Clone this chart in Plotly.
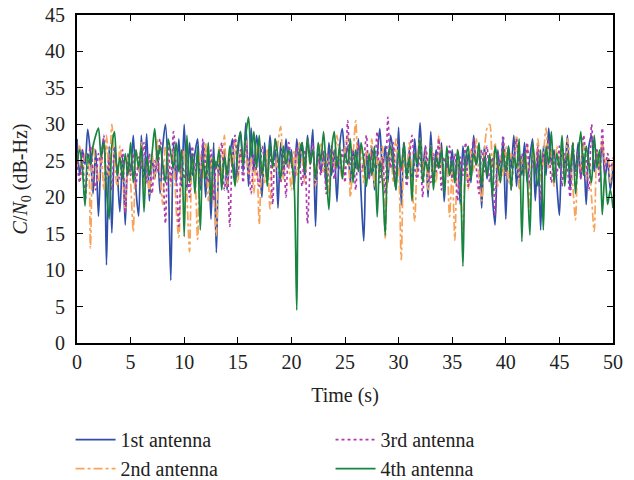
import plotly.graph_objects as go

# time axis: 0 to 50 s, step 0.25 s
time_s = [i * 0.25 for i in range(201)]

ant1 = [
    28.0, 23.0, 26.5, 24.5, 29.3, 26.0, 20.5, 26.5, 17.4, 25.5, 28.0, 10.7, 27.0, 15.1, 26.5, 23.5, 18.0, 25.5, 16.2, 26.0,
    23.5, 28.5, 21.0, 17.4, 28.5, 22.0, 28.7, 19.5, 25.5, 22.5, 26.5, 20.5, 27.0, 30.0, 23.5, 8.6, 27.5, 22.0, 28.0, 21.5,
    30.0, 21.0, 27.5, 23.0, 26.0, 28.0, 21.0, 27.5, 20.0, 26.0, 17.0, 27.5, 12.4, 25.0, 22.5, 26.5, 21.0, 25.5, 28.0, 22.0,
    26.0, 29.0, 23.5, 30.2, 21.5, 29.5, 23.5, 28.5, 25.0, 20.0, 27.5, 22.0, 28.5, 24.5, 26.5, 18.5, 27.5, 23.0, 28.0, 24.0,
    26.5, 21.0, 28.0, 24.0, 27.5, 22.5, 28.5, 25.0, 29.3, 16.0, 27.0, 23.5, 26.0, 21.5, 27.5, 23.0, 26.5, 19.4, 27.0, 29.4,
    25.5, 27.0, 22.0, 26.5, 24.0, 28.0, 20.5, 14.0, 26.0, 22.5, 27.0, 21.0, 25.5, 29.4, 23.5, 27.0, 22.0, 28.5, 26.0, 21.0,
    29.6, 18.9, 27.5, 23.0, 26.5, 21.5, 28.0, 23.5, 30.2, 24.0, 27.0, 20.0, 29.0, 22.5, 26.5, 24.0, 27.5, 19.4, 25.0, 23.0,
    26.5, 22.0, 25.5, 19.0, 27.0, 23.5, 26.0, 22.0, 28.5, 24.5, 26.0, 18.5, 27.0, 22.5, 25.5, 20.0, 16.2, 26.5, 23.0, 28.0,
    17.0, 27.0, 24.0, 28.5, 21.5, 26.0, 23.0, 27.5, 22.0, 25.5, 28.0, 19.5, 26.5, 15.5, 27.0, 23.0, 29.5, 24.5, 26.5, 22.0,
    17.5, 27.0, 24.0, 28.5, 21.0, 26.5, 23.5, 27.5, 22.5, 26.0, 19.0, 27.0, 28.5, 23.5, 26.5, 24.0, 27.5, 22.5, 25.0, 21.0,
    24.0,
]

ant2 = [
    24.0, 27.0, 22.5, 26.0, 25.5, 13.0, 27.5, 24.0, 22.0, 26.5, 21.0, 28.5, 23.0, 30.0, 24.5, 21.5, 27.0, 23.0, 18.0, 25.5,
    22.0, 15.3, 26.5, 23.5, 27.5, 21.0, 24.5, 20.5, 26.0, 22.5, 28.0, 23.0, 19.0, 27.0, 25.0, 21.5, 26.5, 18.5, 14.5, 24.0,
    26.5, 20.5, 12.5, 25.0, 23.0, 14.2, 26.0, 22.5, 27.5, 19.5, 25.5, 21.0, 14.7, 27.0, 22.5, 28.5, 21.5, 26.0, 24.0, 28.0,
    22.0, 26.5, 24.5, 28.0, 23.0, 25.5, 20.5, 27.0, 16.3, 24.5, 22.0, 26.5, 18.4, 25.0, 23.5, 27.5, 29.7, 22.5, 26.0, 24.5,
    21.0, 26.5, 23.0, 27.5, 25.0, 22.0, 28.0, 24.5, 26.5, 21.5, 25.0, 27.5, 23.5, 26.0, 20.5, 27.0, 24.0, 28.5, 25.0, 22.5,
    26.5, 28.5, 20.0, 25.5, 30.5, 23.5, 27.0, 22.0, 26.5, 24.5, 28.0, 21.5, 25.5, 23.0, 27.0, 14.4, 24.0, 26.5, 22.0, 28.0,
    24.5, 11.4, 26.0, 23.0, 27.5, 22.5, 16.7, 25.5, 28.0, 23.5, 26.5, 21.0, 27.0, 24.5, 22.0, 28.5, 25.0, 21.5, 26.0, 17.3,
    23.5, 14.1, 26.5, 22.0, 15.0, 24.5, 21.0, 26.5, 23.5, 28.0, 22.5, 19.5, 26.0, 29.5, 30.0, 24.0, 27.5, 21.5, 25.5, 23.0,
    27.0, 22.0, 26.0, 24.5, 28.5, 21.0, 25.5, 23.0, 27.0, 18.0, 26.0, 24.5, 28.0, 22.5, 25.5, 29.5, 24.0, 26.5, 21.5, 27.0,
    24.0, 26.5, 22.0, 28.0, 25.0, 21.5, 16.9, 26.0, 23.5, 27.5, 22.5, 25.0, 20.0, 15.3, 26.5, 23.5, 28.0, 24.5, 26.0, 22.0,
    25.5,
]

ant3 = [
    25.0, 22.0, 26.5, 19.5, 24.0, 27.0, 23.5, 21.0, 26.0, 24.5, 28.5, 22.5, 25.5, 21.0, 27.0, 24.0, 22.5, 26.5, 17.8, 25.0,
    23.0, 26.0, 21.5, 25.5, 24.0, 27.5, 22.0, 26.0, 20.5, 25.0, 23.5, 28.0, 24.5, 16.4, 27.5, 22.0, 29.0, 24.0, 16.0, 26.5,
    22.5, 25.5, 20.0, 27.0, 23.5, 26.0, 21.5, 28.0, 24.5, 22.0, 26.5, 19.5, 25.0, 23.0, 27.5, 21.0, 24.5, 16.0, 26.0, 28.5,
    23.0, 26.5, 22.0, 27.5, 24.5, 20.5, 26.0, 23.5, 21.5, 27.0, 25.0, 22.5, 26.5, 19.0, 28.0, 24.5, 22.0, 26.0, 20.0, 27.5,
    24.5, 22.5, 27.0, 25.0, 21.5, 26.5, 16.4, 24.0, 27.5, 22.0, 25.5, 23.0, 26.5, 20.5, 24.5, 27.0, 22.5, 25.5, 24.0, 26.5,
    22.0, 30.5, 24.5, 26.5, 21.0, 27.5, 23.5, 25.0, 28.5, 22.5, 26.0, 24.0, 29.0, 22.0, 25.5, 20.5, 31.0, 24.0, 27.5, 22.5,
    26.0, 23.5, 27.5, 21.5, 25.0, 28.5, 24.0, 22.5, 26.5, 20.0, 27.0, 24.5, 22.0, 26.0, 23.5, 28.0, 21.0, 25.5, 24.0, 27.0,
    22.5, 26.0, 19.5, 25.5, 23.0, 27.5, 21.5, 25.0, 28.0, 24.0, 20.5, 26.5, 23.5, 27.0, 22.0, 25.5, 17.5, 26.0, 24.5, 28.5,
    23.0, 26.5, 21.0, 25.5, 28.0, 22.5, 26.0, 24.0, 27.5, 21.5, 25.0, 23.5, 27.0, 19.5, 26.0, 24.5, 28.0, 22.0, 25.5, 23.0,
    27.0, 21.5, 26.0, 24.0, 20.0, 27.5, 23.0, 26.5, 22.5, 28.5, 25.0, 21.0, 30.0, 24.5, 26.5, 22.0, 29.5, 23.5, 26.0, 24.0,
    25.0,
]

ant4 = [
    25.0, 26.5, 24.0, 18.8, 26.0, 24.5, 27.0, 28.5, 29.5, 25.5, 27.5, 21.0, 17.0, 27.0, 29.0, 23.0, 25.5, 22.5, 26.0, 23.0,
    27.5, 22.0, 26.5, 24.0, 27.0, 18.0, 25.5, 23.0, 26.0, 29.4, 25.0, 27.0, 24.5, 22.0, 28.0, 26.0, 24.0, 27.5, 23.5, 26.5,
    14.6, 28.5, 22.0, 26.0, 20.5, 27.0, 15.5, 25.0, 22.5, 27.5, 19.5, 25.5, 24.0, 26.5, 21.0, 25.5, 23.0, 27.0, 24.5, 21.5,
    27.0, 29.0, 24.5, 28.5, 31.0, 25.5, 29.0, 24.0, 28.5, 23.0, 26.0, 21.5, 27.5, 24.0, 28.0, 25.5, 22.5, 27.0, 24.5, 26.5,
    25.0, 22.0, 4.5, 26.0, 27.5, 23.5, 28.0, 24.5, 26.5, 22.5, 27.5, 25.0, 29.0, 23.5, 18.3, 26.5, 29.0, 24.0, 27.0, 22.5,
    26.0, 24.5, 28.0, 22.0, 26.5, 23.5, 27.5, 25.0, 21.5, 26.0, 23.0, 27.0, 17.3, 25.0, 22.0, 14.8, 25.5, 27.0, 24.0, 21.0,
    26.5, 24.0, 27.5, 22.5, 25.5, 19.5, 26.0, 24.5, 28.0, 22.0, 25.0, 23.5, 27.0, 21.0, 25.5, 24.0, 26.5, 20.5, 27.0, 23.0,
    25.0, 22.0, 26.5, 23.5, 10.5, 25.0, 27.0, 22.5, 26.0, 24.5, 27.5, 21.5, 25.5, 23.0, 26.0, 20.0, 27.0, 24.5, 22.0, 26.5,
    23.5, 27.0, 21.0, 25.5, 24.0, 28.0, 13.9, 26.0, 22.5, 14.8, 27.5, 24.0, 21.5, 26.5, 15.5, 27.0, 24.5, 29.0, 22.0, 26.0,
    24.0, 28.5, 21.5, 26.0, 23.5, 27.5, 20.5, 25.5, 29.0, 23.0, 27.0, 24.5, 22.0, 28.5, 24.0, 26.5, 17.6, 23.5, 19.0, 21.0,
    18.5,
]

names = ["1st antenna", "2nd antenna", "3rd antenna", "4th antenna"]
colors = ["#2f4fa8", "#f7a45a", "#b03ab0", "#17853f"]
dashes = ["solid", "dashdot", "dot", "solid"]
legends = ["legend", "legend", "legend2", "legend2"]
series = [ant1, ant2, ant3, ant4]

FONT = "Liberation Serif"
FS = 20

fig = go.Figure()
for name, ys, c, d, lg in zip(names, series, colors, dashes, legends):
    fig.add_trace(go.Scatter(
        x=time_s, y=ys, mode="lines", name=name,
        line=dict(color=c, width=1.7, dash=d, shape="spline", smoothing=0.8),
        legend=lg,
    ))

axis_common = dict(
    showline=True, linecolor="black", linewidth=2, mirror="ticks",
    ticks="inside", ticklen=6, tickwidth=1.2, tickcolor="black",
    showgrid=False, zeroline=False, automargin=False,
    tickfont=dict(family=FONT, size=FS, color="#222"),
)

fig.update_layout(
    width=634, height=480,
    margin=dict(l=77, r=21, t=15, b=137, autoexpand=False),
    paper_bgcolor="white", plot_bgcolor="white",
    font=dict(family=FONT, size=FS, color="#222"),
    xaxis=dict(range=[0, 50], dtick=5, tick0=0,
               title=dict(text="Time (s)", font=dict(family=FONT, size=FS), standoff=16),
               **axis_common),
    yaxis=dict(range=[0, 45], dtick=5, tick0=0,
               ticklabelstandoff=6,
               title=dict(text="<i>C</i>/<i>N</i><sub>0</sub> (dB-Hz)", font=dict(family=FONT, size=FS), standoff=12),
               **axis_common),
    legend=dict(x=-0.012, y=-0.235, xanchor="left", yanchor="top",
                orientation="v", bgcolor="rgba(0,0,0,0)", itemwidth=40,
                font=dict(family=FONT, size=FS), tracegroupgap=0),
    legend2=dict(x=0.473, y=-0.235, xanchor="left", yanchor="top",
                 orientation="v", bgcolor="rgba(0,0,0,0)", itemwidth=40,
                 font=dict(family=FONT, size=FS), tracegroupgap=0),
    showlegend=True,
)

fig.write_html("out.html", config={"displayModeBar": False},
               post_script="document.body.style.margin='0';document.body.style.overflow='hidden';")
